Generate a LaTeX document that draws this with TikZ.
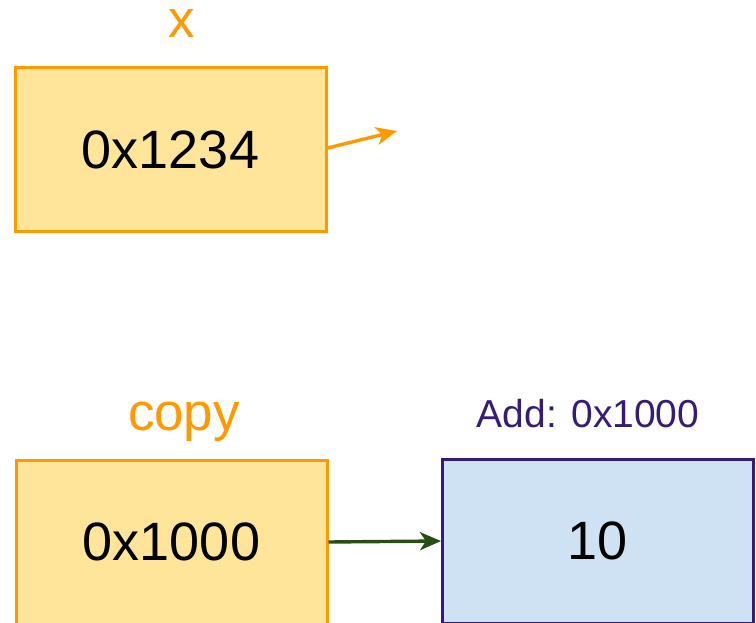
\documentclass[tikz,border=0pt]{standalone}
\usepackage{fontspec}
\setmainfont{Liberation Sans}
\usetikzlibrary{arrows.meta}
\definecolor{orng}{HTML}{FF9900}
\definecolor{orngfill}{HTML}{FFE599}
\definecolor{purp}{HTML}{351C75}
\definecolor{bluefill}{HTML}{CFE2F3}
\definecolor{grn}{HTML}{274E13}
\tikzset{
  membox/.style={draw, line width=3pt, minimum width=311pt, minimum height=164pt, inner sep=0pt, font=\fontsize{54}{60}\selectfont},
  ptrbox/.style={membox, draw=orng, fill=orngfill},
  valbox/.style={membox, draw=purp, fill=bluefill},
  varlabel/.style={text=orng, anchor=base, inner sep=0pt, font=\fontsize{53}{60}\selectfont},
  addrlabel/.style={text=purp, anchor=base, inner sep=0pt, font=\fontsize{39}{44}\selectfont},
  ptrarrow/.style={line width=3.4pt, -{Stealth[length=21pt,width=18pt,inset=6pt]}}
}
\begin{document}
\begin{tikzpicture}[x=1pt,y=-1pt]
\useasboundingbox (0,0) rectangle (756,623);
\clip (0,0) rectangle (756,623);
\node[ptrbox] (xbox) at (170.5,150) {0x1234};
\node[varlabel, text height=28pt] (xlab) at (182,38) {x};
\coordinate (xend) at (397,131);
\draw[ptrarrow, orng] (xbox.east |- 0,148) -- (xend);
\node[ptrbox] (copybox) at (171.5,542) {0x1000};
\node[varlabel] (copylab) at (184,430) {copy};
\node[valbox] (valbox) at (598,541) {10};
\node[addrlabel] (addlab) at (588,427) {Add: 0x1000};
\draw[ptrarrow, grn] (copybox.east) -- (valbox.west);
\end{tikzpicture}
\end{document}
